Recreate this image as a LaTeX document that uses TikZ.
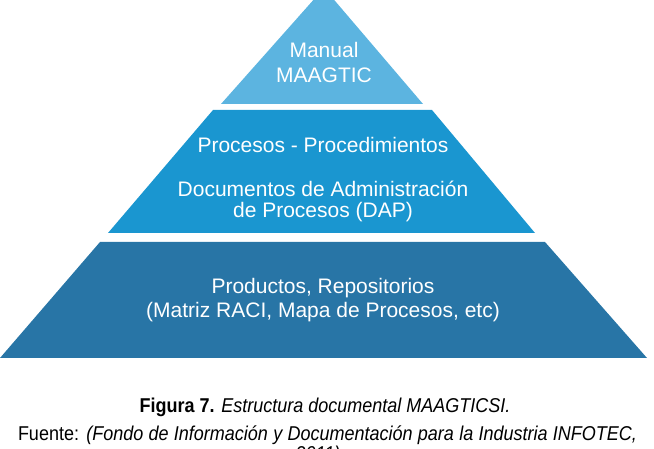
\documentclass[tikz,border=0pt]{standalone}
\usepackage{fontspec}
\setmainfont{Liberation Sans}
\newfontfamily\capfont[FakeStretch=0.9]{Liberation Sans}
\usetikzlibrary{positioning}

\definecolor{tiertop}{RGB}{92,180,224}
\definecolor{tiermid}{RGB}{26,150,208}
\definecolor{tierlow}{RGB}{40,117,166}

\begin{document}
\begin{tikzpicture}[
    x=1pt, y=-1pt,
    tiertext/.style={text=white, font=\fontsize{21}{24}\selectfont, anchor=base, inner sep=0pt},
    captext/.style={text=black, font=\capfont\fontsize{20}{23}\selectfont, anchor=base, inner sep=0pt}
]
    \clip (0,0) rectangle (654,449);
    \useasboundingbox (0,0) rectangle (654,449);

    % Pyramid tiers
    \fill[tiertop] (221,104) -- (324,-12) -- (423,104) -- cycle;
    \fill[tiermid] (213,110) -- (432,110) -- (535,233) -- (108,233) -- cycle;
    \fill[tierlow] (100,242) -- (545,242) -- (647,358) -- (0,358) -- cycle;

    % Top tier
    \node[tiertext] (manual) at (324,58) {Manual};
    \node[tiertext] (maagtic) at (324,83) {MAAGTIC};

    % Middle tier
    \node[tiertext] (procesos) at (323,153) {Procesos - Procedimientos};
    \node[tiertext] (docadmin) at (323,197) {Documentos de Administraci\'on};
    \node[tiertext] (dap) at (323,218) {de Procesos (DAP)};

    % Bottom tier
    \node[tiertext] (productos) at (323,294) {Productos, Repositorios};
    \node[tiertext] (matriz) at (323,318) {(Matriz RACI, Mapa de Procesos, etc)};

    % Caption
    \node[captext] (figura) at (325,412) {\textbf{Figura 7.} \textit{Estructura documental MAAGTICSI.}};
    \node[captext] (fuente) at (327.5,440) {\makebox[619pt][s]{Fuente: \textit{(Fondo de Informaci\'on y Documentaci\'on para la Industria INFOTEC,}}};
    \node[captext] (anio) at (318,460) {\textit{2011)}};
\end{tikzpicture}
\end{document}
